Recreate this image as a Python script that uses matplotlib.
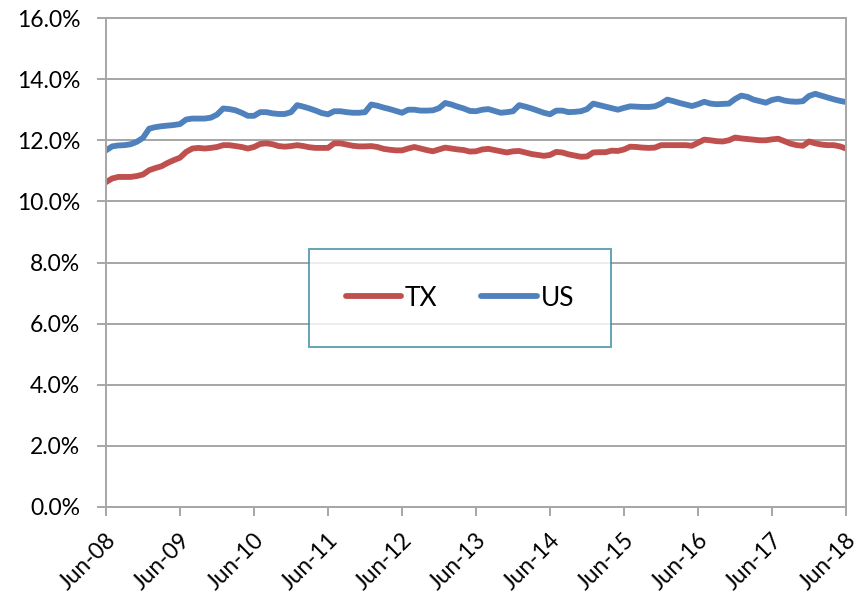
import matplotlib.pyplot as plt
import matplotlib.transforms as mtransforms
from matplotlib.ticker import FuncFormatter

# monthly share, Jun-08 .. Jun-18 (121 points)
tx = [10.63, 10.75, 10.80, 10.80, 10.80, 10.83, 10.88, 11.02, 11.09, 11.15,
      11.26, 11.35, 11.43, 11.62, 11.73, 11.75, 11.73, 11.75, 11.78, 11.84,
      11.84, 11.81, 11.78, 11.73, 11.78, 11.88, 11.90, 11.87, 11.81, 11.79,
      11.81, 11.84, 11.81, 11.77, 11.75, 11.75, 11.75, 11.90, 11.90, 11.86,
      11.82, 11.80, 11.80, 11.81, 11.78, 11.72, 11.69, 11.67, 11.67, 11.73,
      11.78, 11.73, 11.68, 11.64, 11.70, 11.76, 11.73, 11.70, 11.68, 11.63,
      11.64, 11.70, 11.72, 11.68, 11.64, 11.60, 11.64, 11.65, 11.60, 11.55,
      11.52, 11.49, 11.52, 11.62, 11.60, 11.54, 11.50, 11.46, 11.47, 11.60,
      11.61, 11.61, 11.66, 11.65, 11.70, 11.79, 11.78, 11.76, 11.75, 11.76,
      11.84, 11.84, 11.84, 11.84, 11.84, 11.82, 11.92, 12.02, 12.00, 11.97,
      11.96, 12.00, 12.09, 12.06, 12.04, 12.02, 12.00, 12.00, 12.03, 12.05,
      11.97, 11.89, 11.84, 11.82, 11.96, 11.90, 11.86, 11.84, 11.84, 11.80,
      11.73]

us = [11.67, 11.80, 11.83, 11.84, 11.87, 11.95, 12.08, 12.38, 12.43, 12.46,
      12.48, 12.50, 12.53, 12.68, 12.71, 12.71, 12.71, 12.74, 12.84, 13.04,
      13.02, 12.98, 12.90, 12.80, 12.80, 12.92, 12.92, 12.88, 12.86, 12.86,
      12.92, 13.15, 13.10, 13.04, 12.97, 12.89, 12.85, 12.95, 12.95, 12.92,
      12.90, 12.90, 12.92, 13.17, 13.13, 13.07, 13.02, 12.96, 12.90, 13.00,
      13.00, 12.97, 12.97, 12.98, 13.05, 13.22, 13.17, 13.10, 13.04, 12.96,
      12.95, 13.00, 13.02, 12.96, 12.90, 12.92, 12.95, 13.15, 13.10, 13.04,
      12.97, 12.90, 12.85, 12.97, 12.97, 12.92, 12.93, 12.95, 13.02, 13.20,
      13.15, 13.10, 13.05, 13.00, 13.06, 13.11, 13.10, 13.09, 13.09, 13.11,
      13.20, 13.33, 13.28, 13.22, 13.17, 13.12, 13.18, 13.26, 13.20, 13.18,
      13.19, 13.20, 13.35, 13.46, 13.42, 13.33, 13.28, 13.23, 13.32, 13.36,
      13.30, 13.27, 13.26, 13.28, 13.45, 13.52, 13.46, 13.40, 13.34, 13.29,
      13.25]

tick_labels = ["Jun-08", "Jun-09", "Jun-10", "Jun-11", "Jun-12", "Jun-13",
               "Jun-14", "Jun-15", "Jun-16", "Jun-17", "Jun-18"]

plt.rcParams["font.family"] = ["Lato", "DejaVu Sans"]

fig = plt.figure(figsize=(8.66, 5.95), dpi=100)
ax = fig.add_axes([0.1224, 0.1479, 0.8546, 0.8218])

months = list(range(len(tx)))
ax.plot(months, tx, color="#C0504D", lw=4.2, label="TX", solid_capstyle="round")
ax.plot(months, us, color="#4F81BD", lw=4.2, label="US", solid_capstyle="round")

ax.set_xlim(0, len(tx) - 1)
ax.set_ylim(0, 16)
ax.set_yticks(range(0, 17, 2))
ax.yaxis.set_major_formatter(FuncFormatter(lambda v, p: f"{v:.1f}%"))
ax.set_xticks(range(0, len(tx), 12))
ax.set_xticklabels(tick_labels, rotation=45, ha="right", va="center",
                   rotation_mode="anchor")

ax.grid(axis="y", color="#A6A6A6", lw=1.4)
ax.set_axisbelow(True)
for s in ax.spines.values():
    s.set_color("#A6A6A6")
    s.set_linewidth(1.4)
ax.tick_params(axis="both", colors="#A6A6A6", length=6.5, width=1.4,
               labelcolor="black", labelsize=16.5)
ax.tick_params(axis="y", pad=12)
ax.tick_params(axis="x", pad=12)

# nudge the rotated date labels a little right/down (after tick_params,
# which would reset the transform)
shift = mtransforms.ScaledTranslation(5 / 72, -3 / 72, fig.dpi_scale_trans)
for lbl in ax.get_xticklabels():
    lbl.set_transform(lbl.get_transform() + shift)

leg = ax.legend(loc="center", bbox_to_anchor=(0.478, 0.4274), ncol=2,
                frameon=True, fancybox=False, fontsize=19,
                handlelength=2.1, handletextpad=0.15, columnspacing=1.65,
                borderpad=1.4)
leg.get_frame().set_edgecolor("#3C8FA0")
leg.get_frame().set_linewidth(1.4)

fig.savefig("out.png", dpi=100)
